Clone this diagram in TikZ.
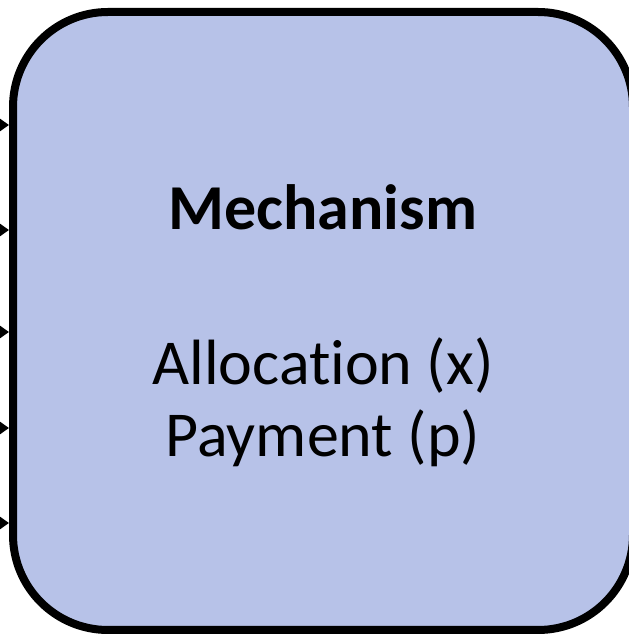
\documentclass[tikz,border=0pt]{standalone}
\usepackage{fontspec}
\setmainfont[RawFeature=-liga]{Carlito}
\usetikzlibrary{arrows.meta}
\definecolor{boxfill}{RGB}{183,194,232}
\begin{document}
\begin{tikzpicture}[x=1pt,y=1pt,
  mech/.style={draw=black,line width=8pt,fill=boxfill,rounded corners=95pt,minimum width=620pt,minimum height=618pt,inner sep=0pt},
  inarrow/.style={line width=3pt,-{Triangle[length=9pt,width=12pt]}},
  title/.style={font=\fontsize{64}{72}\selectfont\bfseries},
  body/.style={font=\fontsize{64}{72}\selectfont,align=center}]
\useasboundingbox (0,0) rectangle (629,635);
\node[mech] (box) at (323,314) {};
\node[title,anchor=base] (t) at (323,405) {Mechanism};
\node[body,anchor=base] (a) at (323,250) {Allocation (x)};
\node[body,anchor=base] (p) at (323,178) {Payment (p)};
\foreach \i/\y in {1/510,2/405,3/303,4/207,5/112}{
  \coordinate (s\i) at (-30,\y);
  \draw[inarrow] (s\i) -- (s\i -| box.west);
}
\end{tikzpicture}
\end{document}
